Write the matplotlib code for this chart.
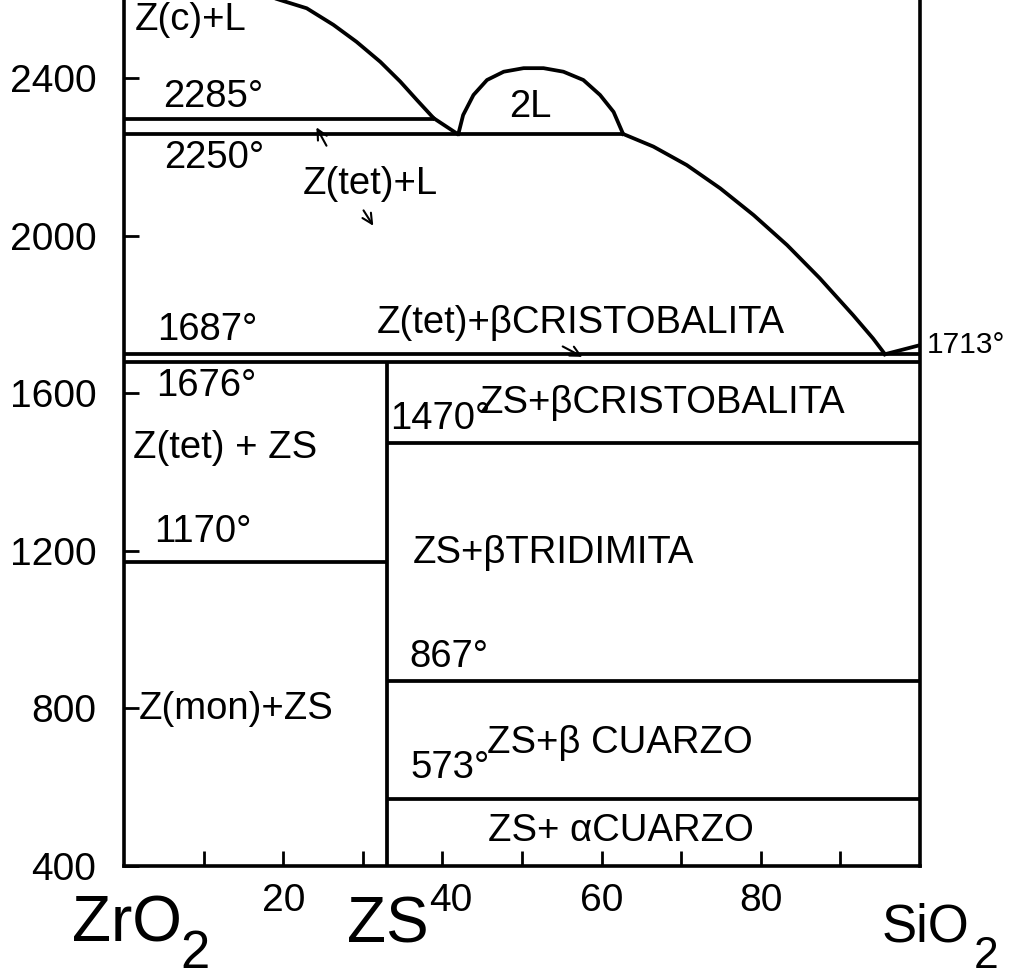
import matplotlib.pyplot as plt
import matplotlib as mpl
from matplotlib.transforms import ScaledTranslation

mpl.rcParams['font.family'] = ['Liberation Sans', 'DejaVu Sans']

# Phase boundaries, x = wt% SiO2, y = temperature (deg C)
zc_liq_x = [17.6, 19.6, 22.95, 26.3, 29.2, 32.2, 34.7, 36.8, 38.9]
zc_liq_y = [2611, 2598, 2577, 2535, 2492, 2441, 2391, 2344, 2298]

ztet_liq_x = [38.9, 41.9]
ztet_liq_y = [2298, 2258]

dome_x = [42.0, 42.6, 43.9, 45.6, 47.7, 50.2, 52.7, 55.2, 57.7, 59.8, 61.5, 62.7]
dome_y = [2258, 2306, 2357, 2395, 2416, 2425, 2425, 2416, 2395, 2357, 2314, 2258]

si_liq_x = [62.7, 66.5, 70.7, 74.9, 79.1, 83.3, 87.4, 91.6, 94.1, 95.6]
si_liq_y = [2258, 2226, 2179, 2120, 2052, 1976, 1892, 1798, 1739, 1699]

crist_liq_x = [95.6, 100]
crist_liq_y = [1699, 1722]

# horizontal invariants
t_2285 = 2296
t_2250 = 2258
t_1687 = 1699
t_1676 = 1678
t_1470 = 1474
t_1170 = 1171
t_867 = 870
t_573 = 570

zs_x = 33.0

fig = plt.figure(figsize=(10.11, 9.8), dpi=100)
ax = fig.add_axes([0.1227, 0.1163, 0.9100 - 0.1227, 1 - 0.1163])

kw = dict(color='black', lw=2.7)

ax.plot(zc_liq_x, zc_liq_y, **kw)
ax.plot(ztet_liq_x, ztet_liq_y, **kw)
ax.plot(dome_x, dome_y, **kw)
ax.plot(si_liq_x, si_liq_y, **kw)
ax.plot(crist_liq_x, crist_liq_y, **kw)

ax.hlines(t_2285, 0, 38.9, **kw)
ax.hlines(t_2250, 0, 62.7, **kw)
ax.hlines(t_1687, 0, 100, **kw)
ax.hlines(t_1676, 0, 100, **kw)
ax.hlines(t_1470, zs_x, 100, **kw)
ax.hlines(t_1170, 0, zs_x, **kw)
ax.hlines(t_867, zs_x, 100, **kw)
ax.hlines(t_573, zs_x, 100, **kw)
ax.vlines(zs_x, 400, t_1676, **kw)

ax.set_xlim(0, 100)
ax.set_ylim(400, 2598)

ax.spines['top'].set_visible(False)
for s in ['left', 'bottom', 'right']:
    ax.spines[s].set_linewidth(2.6)

ax.set_xticks(range(10, 100, 10))
ax.set_xticklabels(['', '20', '', '40', '', '60', '', '80', ''])
ax.set_yticks(range(400, 2401, 400))
ax.tick_params(direction='in', length=11, width=2, labelsize=28)
ax.tick_params(axis='x', pad=12)
ax.tick_params(axis='y', pad=20)

# the "40" label sits a bit right of its tick, next to "ZS"
lab40 = ax.get_xticklabels()[3]
lab40.set_transform(lab40.get_transform() + ScaledTranslation(8 / 100, 0, fig.dpi_scale_trans))

fs = 27.5
labels = [
    ('2285°', 11.2, 2352, 'center'),
    ('2250°', 11.3, 2197, 'center'),
    ('Z(tet)+L', 31.0, 2131, 'center'),
    ('2L', 51.0, 2326, 'center'),
    ('1687°', 10.4, 1760, 'center'),
    ('Z(tet)+βCRISTOBALITA', 57.4, 1778, 'center'),
    ('1676°', 10.3, 1618, 'center'),
    ('1470°', 39.7, 1535, 'center'),
    ('ZS+βCRISTOBALITA', 67.6, 1575, 'center'),
    ('Z(tet) + ZS', 12.7, 1461, 'center'),
    ('1170°', 9.9, 1248, 'center'),
    ('ZS+βTRIDIMITA', 53.9, 1194, 'center'),
    ('867°', 40.8, 930, 'center'),
    ('Z(mon)+ZS', 1.8, 798, 'left'),
    ('573°', 41.0, 649, 'center'),
    ('ZS+β CUARZO', 62.3, 712, 'center'),
    ('ZS+ αCUARZO', 62.4, 489, 'center'),
]
for txt, x, y, ha in labels:
    ax.text(x, y, txt, fontsize=fs, ha=ha, va='center')

ax.text(1.4, 2594, 'Z(c)+L', fontsize=fs, ha='left', va='top')
ax.text(100.8, 1722, '1713°', fontsize=21.5, ha='left', va='center', clip_on=False)

# small arrows
aprops = dict(arrowstyle='->', lw=1.5, color='black', mutation_scale=18)
ax.annotate('', xy=(24.0, 2281), xytext=(25.6, 2222), arrowprops=aprops)
ax.annotate('', xy=(31.5, 2019), xytext=(29.9, 2070), arrowprops=aprops)
ax.annotate('', xy=(57.9, 1689), xytext=(54.8, 1722), arrowprops=aprops)

# component labels
big = 46
fig.text(0.071, 0.039, 'ZrO', fontsize=big, va='baseline')
fig.text(0.178, 0.012, '2', fontsize=38, va='baseline')
fig.text(0.343, 0.038, 'ZS', fontsize=big, va='baseline')
fig.text(0.872, 0.039, 'SiO', fontsize=38, va='baseline')
fig.text(0.963, 0.012, '2', fontsize=32, va='baseline')

fig.savefig('out.png', dpi=100)
